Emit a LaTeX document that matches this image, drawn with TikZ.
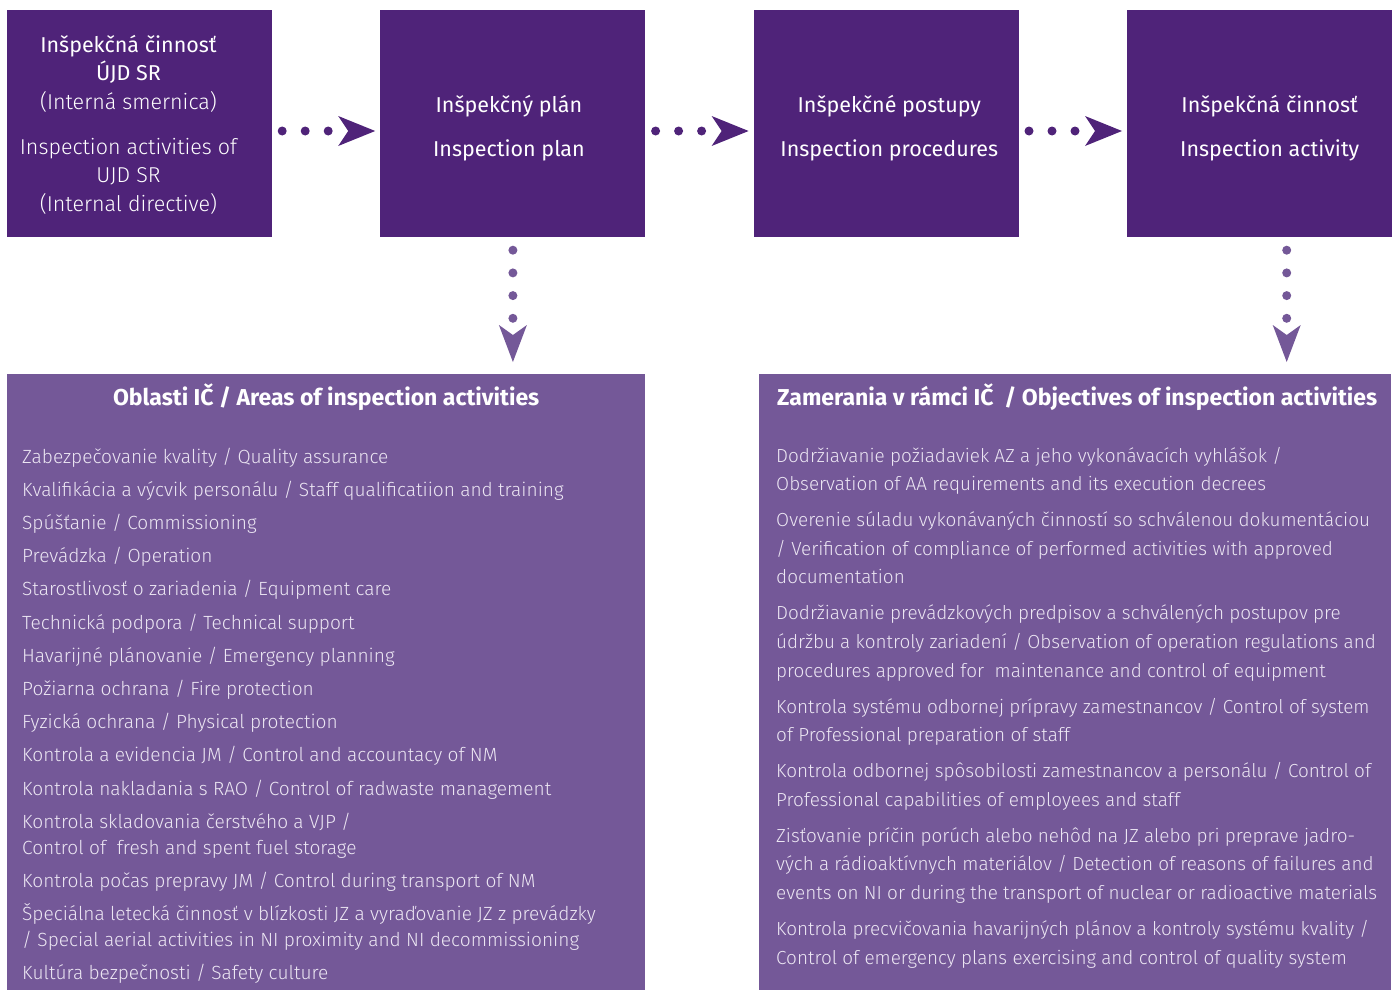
\documentclass[tikz,border=0pt]{standalone}
\usepackage{fontspec}
\setmainfont{Fira Sans}
\newfontfamily\lightfont{Fira Sans Light}
\usetikzlibrary{arrows.meta,positioning}
\definecolor{ujddark}{HTML}{4F2379}
\definecolor{ujdlight}{HTML}{745898}
\definecolor{ujdtext}{HTML}{ECE6F3}
\tikzset{
  box_top/.style = {rectangle, fill=ujddark, inner sep=0pt,
    minimum width=265pt, minimum height=227pt},% tmave boxy hore
  box_text/.style = {text=white, inner sep=0pt, align=center,
    font=\fontsize{21.5}{28.5}\selectfont},
  box_area/.style = {rectangle, fill=ujdlight, inner sep=0pt},% svetle panely
  area_head/.style = {text=white, inner sep=0pt,
    font=\fontsize{23}{26}\selectfont\bfseries},
  area_list/.style = {text=ujdtext, align=left, inner sep=0pt},
  dots_h/.style = {ujddark, line width=9pt, line cap=round,
    dash pattern=on 0pt off 23pt,
    -{Stealth[length=37pt, width=30pt, inset=10pt, line width=0pt]}},
  dots_v/.style = {ujdlight, line width=9pt, line cap=round,
    dash pattern=on 0pt off 22.7pt,
    -{Stealth[length=37pt, width=28pt, inset=10pt, line width=0pt]}}
}
\begin{document}
\begin{tikzpicture}[x=1pt, y=-1pt]
  \useasboundingbox (0,0) rectangle (1395,990);
  % horny rad
  \node [box_top] (B1) at (139.5,123.5) {};
  \node [box_top, right=108pt of B1] (B2) {};
  \node [box_top, right=108pt of B2] (B3) {};
  \node [box_top, right=108pt of B3] (B4) {};
  \node [box_text] (B1t) at ([xshift=-11pt, yshift=-1pt]B1.center) {Inšpekčná činnosť\\ÚJD SR\\
    {\lightfont (Interná smernica)}\\[16.5pt]
    {\lightfont Inspection activities of}\\{\lightfont UJD SR}\\
    {\lightfont (Internal directive)}};
  \node [box_text] (B2t) at ([xshift=-4pt, yshift=-5pt]B2.center) {Inšpekčný plán\\[15.5pt]Inspection plan};
  \node [box_text] (B3t) at ([xshift=3pt, yshift=-5pt]B3.center) {Inšpekčné postupy\\[15.5pt]Inspection procedures};
  \node [box_text] (B4t) at ([xshift=10pt, yshift=-5pt]B4.center) {Inšpekčná činnosť\\[15.5pt]Inspection activity};
  % panely
  \node [box_area, minimum width=638pt, minimum height=616pt, anchor=north west]
    (A1) at (7,374) {};
  \node [box_area, minimum width=632pt, minimum height=616pt, anchor=north west]
    (A2) at (759,374) {};
  \node [area_head] (H1) at ([yshift=-23pt]A1.north) {Oblasti IČ / Areas of inspection activities};
  \node [area_head] (H2) at ([xshift=2pt, yshift=-23pt]A2.north) {Zamerania v rámci IČ~ / Objectives of inspection activities};
  \node [area_list, anchor=base west,
    font=\lightfont\fontsize{19.1}{26}\selectfont] (L1) at (22,979.8) {%
    Zabezpečovanie kvality / Quality assurance\\[7.2pt]
    Kvalifikácia a výcvik personálu / Staff qualificatiion and training\\[7.2pt]
    Spúšťanie / Commissioning\\[7.2pt]
    Prevádzka / Operation\\[7.2pt]
    Starostlivosť o zariadenia / Equipment care\\[7.2pt]
    Technická podpora / Technical support\\[7.2pt]
    Havarijné plánovanie / Emergency planning\\[7.2pt]
    Požiarna ochrana / Fire protection\\[7.2pt]
    Fyzická ochrana / Physical protection\\[7.2pt]
    Kontrola a evidencia JM / Control and accountacy of NM\\[7.2pt]
    Kontrola nakladania s RAO / Control of radwaste management\\[7.2pt]
    Kontrola skladovania čerstvého a VJP /\\
    Control of~ fresh and spent fuel storage\\[7.2pt]
    Kontrola počas prepravy JM / Control during transport of NM\\[7.2pt]
    Špeciálna letecká činnosť v blízkosti JZ a vyraďovanie JZ z prevádzky\\
    / Special aerial activities in NI proximity and NI decommissioning\\[7.2pt]
    Kultúra bezpečnosti / Safety culture};
  \node [area_list, anchor=base west,
    font=\lightfont\fontsize{18.9}{28.6}\selectfont] (L2) at (776,964) {%
    Dodržiavanie požiadaviek AZ a jeho vykonávacích vyhlášok /\\
    Observation of AA requirements and its execution decrees\\[7.4pt]
    Overenie súladu vykonávaných činností so schválenou dokumentáciou\\
    / Verification of compliance of performed activities with approved\\
    documentation\\[7.4pt]
    Dodržiavanie prevádzkových predpisov a schválených postupov pre\\
    údržbu a kontroly zariadení / Observation of operation regulations and\\
    procedures approved for~ maintenance and control of equipment\\[7.4pt]
    Kontrola systému odbornej prípravy zamestnancov / Control of system\\
    of Professional preparation of staff\\[7.4pt]
    Kontrola odbornej spôsobilosti zamestnancov a personálu / Control of\\
    Professional capabilities of employees and staff\\[7.4pt]
    Zisťovanie príčin porúch alebo nehôd na JZ alebo pri preprave jadro-\\
    vých a rádioaktívnych materiálov / Detection of reasons of failures and\\
    events on NI or during the transport of nuclear or radioactive materials\\[7.4pt]
    Kontrola precvičovania havarijných plánov a kontroly systému kvality /\\
    Control of emergency plans exercising and control of quality system};
  % sipky
  \draw [dots_h] ([xshift=10pt, yshift=-7.5pt]B1.east) -- ([xshift=-5pt, yshift=-7.5pt]B2.west);
  \draw [dots_h] ([xshift=10pt, yshift=-7.5pt]B2.east) -- ([xshift=-5pt, yshift=-7.5pt]B3.west);
  \draw [dots_h] ([xshift=10pt, yshift=-7.5pt]B3.east) -- ([xshift=-5pt, yshift=-7.5pt]B4.west);
  \coordinate [yshift=12pt] (T1) at (B2.south |- A1.north);
  \coordinate [xshift=27pt, yshift=12pt] (T2) at (B4.south |- A2.north);
  \draw [dots_v] ([yshift=-13pt]B2.south) -- (T1);
  \draw [dots_v] ([xshift=27pt, yshift=-13pt]B4.south) -- (T2);
\end{tikzpicture}
\end{document}
